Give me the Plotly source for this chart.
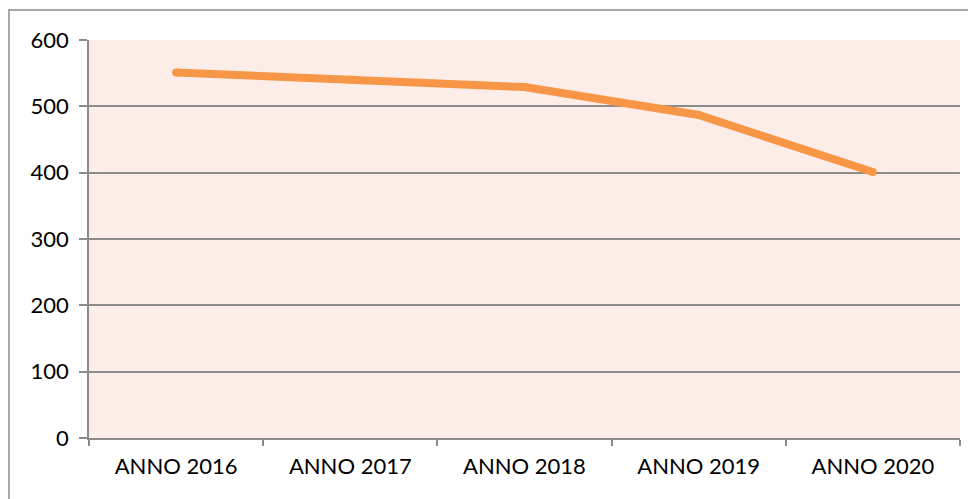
import plotly.graph_objects as go

anni = ["ANNO 2016", "ANNO 2017", "ANNO 2018", "ANNO 2019", "ANNO 2020"]
valori = [551, 540, 529, 487, 401]

# the page body adds an 8px offset, so the figure is a bit smaller
off = 8
W, H = 976 - off, 499 - off
ml, mr, mt, mb = 89 - off, 16, 40 - off, 61
pw = W - ml - mr
ph = H - mt - mb

fig = go.Figure()
fig.add_trace(go.Scatter(
    x=anni, y=valori, mode="lines+markers",
    line=dict(color="#F79646", width=8),
    marker=dict(color="#F79646", size=8),
    hoverinfo="x+y",
))

grey = "#8C8C8C"
fig.update_layout(
    width=W, height=H,
    margin=dict(l=ml, r=mr, t=mt, b=mb),
    paper_bgcolor="white",
    plot_bgcolor="#FCEDE8",
    font=dict(family="Lato, 'Open Sans', sans-serif", size=22, color="black"),
    showlegend=False,
    xaxis=dict(
        type="category", tickson="boundaries",
        ticks="outside", ticklen=6, tickcolor=grey, tickwidth=1.5,
        showline=True, linecolor=grey, linewidth=1.5,
        showgrid=False, range=[-0.5, 4.5], ticklabelstandoff=8,
    ),
    yaxis=dict(
        range=[0, 600], dtick=100,
        ticks="outside", ticklen=8, tickcolor=grey, tickwidth=1.5,
        showline=True, linecolor=grey, linewidth=1.5,
        gridcolor=grey, gridwidth=1.5, zeroline=False,
        ticklabelstandoff=6,
    ),
    shapes=[dict(
        type="rect", xref="paper", yref="paper",
        x0=(1 - ml) / pw, x1=(W + 5 - ml) / pw,
        y0=-(mb + 10) / ph, y1=(H - (10 - off) - mb) / ph,
        line=dict(color=grey, width=1.5), layer="below",
    )],
)

fig.write_html("out.html")
